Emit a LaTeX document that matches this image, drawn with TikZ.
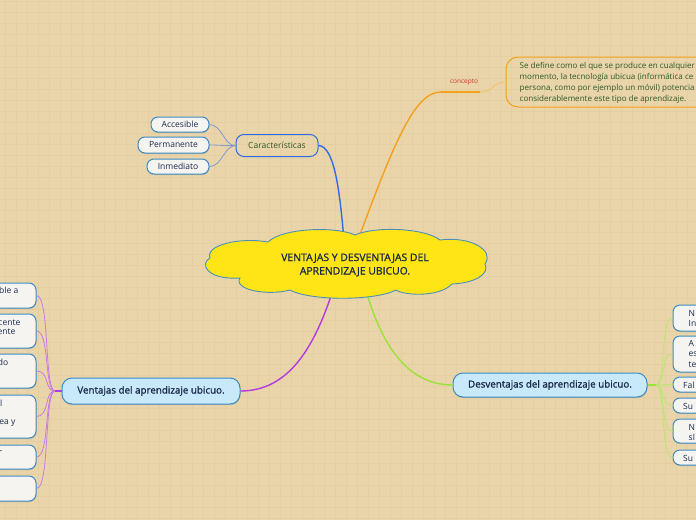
\documentclass[tikz,border=0pt]{standalone}
\usepackage{fontspec}
\setmainfont{Open Sans}
\usetikzlibrary{shadows}
\definecolor{bg}{HTML}{E9D5A9}
\definecolor{gridc}{HTML}{E5CFA2}
\definecolor{navy}{HTML}{1B2A4A}
\definecolor{nodeblue}{HTML}{3D8CC4}
\definecolor{lightblue}{HTML}{C8E9FA}
\definecolor{offwhite}{HTML}{F6F4F1}
\definecolor{cloudy}{HTML}{FFE515}
\definecolor{cloudb}{HTML}{4A90B8}
\definecolor{orangec}{HTML}{F5A01F}
\definecolor{orangel}{HTML}{F7C062}
\definecolor{bluec}{HTML}{2F6CE8}
\definecolor{purplec}{HTML}{B23AE0}
\definecolor{purplel}{HTML}{C77BE3}
\definecolor{greenc}{HTML}{9BE33C}
\definecolor{greenl}{HTML}{B8E872}
\definecolor{leafblue}{HTML}{8497D8}
\definecolor{darkgreen}{HTML}{2F5A2A}
\definecolor{redc}{HTML}{C0392B}
\newfontfamily\heavyfont[FakeBold=1.2]{Open Sans}
\begin{document}
\begin{tikzpicture}[x=1pt,y=-1pt,
  leaf/.style={draw=nodeblue, line width=1pt, fill=offwhite, rounded corners=7pt, inner sep=0pt,
    drop shadow={shadow xshift=0.5pt, shadow yshift=-1.2pt, opacity=0.3}},
  mainbox/.style={draw=nodeblue, line width=1pt, fill=lightblue, rounded corners=10pt, inner sep=0pt,
    font=\heavyfont\fontsize{9.8}{12}\selectfont, text=navy,
    drop shadow={shadow xshift=0.5pt, shadow yshift=-1.2pt, opacity=0.3}},
  lbl/.style={font=\fontsize{8.5}{10}\selectfont, text=navy, inner sep=0pt},
  frag/.style={font=\fontsize{8.5}{10}\selectfont, text=navy, inner sep=0pt},
  conn/.style={line width=1.4pt},
  thin/.style={line width=0.8pt}
]
\clip (0,0) rectangle (696,520);
\fill[bg] (0,0) rectangle (696,520);
\foreach \i in {5.3,16.3,...,696} \draw[gridc, line width=0.9pt] (\i,0) -- (\i,520);
\foreach \j in {1,12,...,520} \draw[gridc, line width=0.9pt] (0,\j) -- (696,\j);

% cloud anchor coordinates
\coordinate (ctop1) at (344,240);
\coordinate (ctop2) at (358,240);
\coordinate (cbot1) at (333,290);
\coordinate (cbot2) at (366,290);

% nodes
\node[draw=bluec, line width=1pt, rounded corners=8pt, minimum width=82pt, minimum height=22pt, inner sep=0pt,
  font=\fontsize{8.5}{10}\selectfont, text=darkgreen] (car) at (277,145.5) {Características};
\node[leaf, lbl, minimum width=58pt, minimum height=15pt] (acc) at (180,124.5) {Accesible};
\node[leaf, lbl, minimum width=71pt, minimum height=16pt] (perm) at (173.5,145) {Permanente};
\node[leaf, lbl, minimum width=62pt, minimum height=15pt] (inm) at (178,166.5) {Inmediato};

\node[draw=orangec, line width=1pt, rounded corners=12pt, minimum width=254pt, minimum height=50pt, inner sep=0pt] (cbox) at (633,82) {};
\node[anchor=west, align=left, inner sep=0pt, text=darkgreen, font=\fontsize{8.05}{11}\selectfont] (ctext) at (519.5,82.5)
  {Se define como el que se produce en cualquier\\momento, la tecnología ubicua (informática ce\\persona, como por ejemplo un móvil) potencia\\considerablemente este tipo de aprendizaje.};
\node[text=redc, font=\fontsize{6.5}{7.5}\selectfont, inner sep=0pt] (clab) at (464,82.5) {concepto};
\coordinate (cu1) at (441,92);
\coordinate (cu2) at (480,92);

\node[mainbox, minimum width=178pt, minimum height=26pt] (vent) at (151,391) {Ventajas del aprendizaje ubicuo.};
\node[mainbox, minimum width=194pt, minimum height=24pt] (desv) at (550,385) {Desventajas del aprendizaje ubicuo.};
\coordinate (vj) at (55,391);
\coordinate (dj) at (656,385);

% left leaves
\node[leaf, minimum width=100pt, minimum height=25pt] (l1) at (-14,295.5) {};
\node[leaf, minimum width=100pt, minimum height=34pt] (l2) at (-14,331) {};
\node[leaf, minimum width=100pt, minimum height=34pt] (l3) at (-14,371) {};
\node[leaf, minimum width=100pt, minimum height=43pt] (l4) at (-14,416.5) {};
\node[leaf, minimum width=100pt, minimum height=24pt] (l5) at (-14,457) {};
\node[leaf, minimum width=100pt, minimum height=25pt] (l6) at (-14,488.5) {};
\node[frag, anchor=east] (f1) at (18.5,290.5) {ble a};
\node[frag, anchor=east] (f2) at (20.5,322.5) {cente};
\node[frag, anchor=east] (f3) at (15.5,332) {ente};
\node[frag, anchor=east] (f4) at (8.5,362) {do};
\node[frag, anchor=east] (f5) at (2.5,403) {l};
\node[frag, anchor=east] (f6) at (15.5,423) {ea y};
\node[frag, anchor=east] (f7) at (2.5,452) {-};

% right leaves
\node[leaf, minimum width=100pt, minimum height=26pt] (r1) at (723,318) {};
\node[leaf, minimum width=100pt, minimum height=36pt] (r2) at (723,354) {};
\node[leaf, minimum width=100pt, minimum height=15pt] (r3) at (723,384.5) {};
\node[leaf, minimum width=100pt, minimum height=15pt] (r4) at (723,405.5) {};
\node[leaf, minimum width=100pt, minimum height=24pt] (r5) at (723,431) {};
\node[leaf, minimum width=100pt, minimum height=15pt] (r6) at (723,457.5) {};
\node[frag, anchor=west] (g1) at (688.5,313) {N};
\node[frag, anchor=west] (g2) at (688.5,323) {In};
\node[frag, anchor=west] (g3) at (688.5,343.5) {A};
\node[frag, anchor=west] (g4) at (688.5,354) {es};
\node[frag, anchor=west] (g5) at (688.5,364.5) {te};
\node[frag, anchor=west] (g6) at (683,385) {Fal};
\node[frag, anchor=west] (g7) at (683,406) {Su};
\node[frag, anchor=west] (g8) at (688.5,427) {N};
\node[frag, anchor=west] (g9) at (688.5,437) {sl};
\node[frag, anchor=west] (g10) at (683,458) {Su};

% connectors
\draw[bluec, conn] (car.east) .. controls (335,146) and (340,195) .. (ctop1);
\foreach \n/\y in {acc/124.5,perm/145,inm/166.5}
  \draw[leafblue, thin] (car.west) .. controls (224,146) and (222,\y) .. (\n.east);
\draw[orangec, conn] (ctop2) .. controls (395,140) and (415,92) .. (cu1);
\draw[orangec, line width=2.6pt] (cu1) -- (cu2);
\draw[orangel, thin] (cu2) .. controls (494,92) and (492,82) .. (cbox.west);
\draw[purplec, conn] (cbot1) .. controls (315,345) and (290,391) .. (vent.east);
\draw[purplec, line width=2.4pt] (vj) -- (vent.west);
\foreach \n/\y in {l1/295.5,l2/331,l3/371,l4/416.5,l5/457,l6/488.5}
  \draw[purplel, thin] (vj) .. controls (44,391) and (50,\y) .. (\n.east);
\draw[greenc, conn] (cbot2) .. controls (380,340) and (405,385) .. (desv.west);
\draw[greenc, line width=2.4pt] (desv.east) -- (dj);
\foreach \n/\y in {r1/318,r2/354,r3/384.5,r4/405.5,r5/431,r6/457.5}
  \draw[greenl, thin] (dj) .. controls (666,385) and (660,\y) .. (\n.west);

% cloud
\draw[fill=cloudy, draw=cloudb, line width=0.9pt]
  (210,258) .. controls (205,245) and (240,237) .. (268,242)
  .. controls (282,228) and (335,226) .. (355,235)
  .. controls (375,226) and (425,228) .. (440,240)
  .. controls (470,236) and (495,250) .. (485,264)
  .. controls (490,274) and (475,283) .. (452,284)
  .. controls (440,297) and (405,296) .. (396,290)
  .. controls (375,301) and (310,301) .. (290,290)
  .. controls (268,296) and (233,290) .. (240,278)
  .. controls (205,280) and (200,263) .. (210,258) -- cycle;
\node[align=center, text=navy, inner sep=0pt, font=\heavyfont\fontsize{10.4}{13.5}\selectfont] (title) at (355,265)
  {VENTAJAS Y DESVENTAJAS DEL\\APRENDIZAJE UBICUO.};
\end{tikzpicture}
\end{document}
